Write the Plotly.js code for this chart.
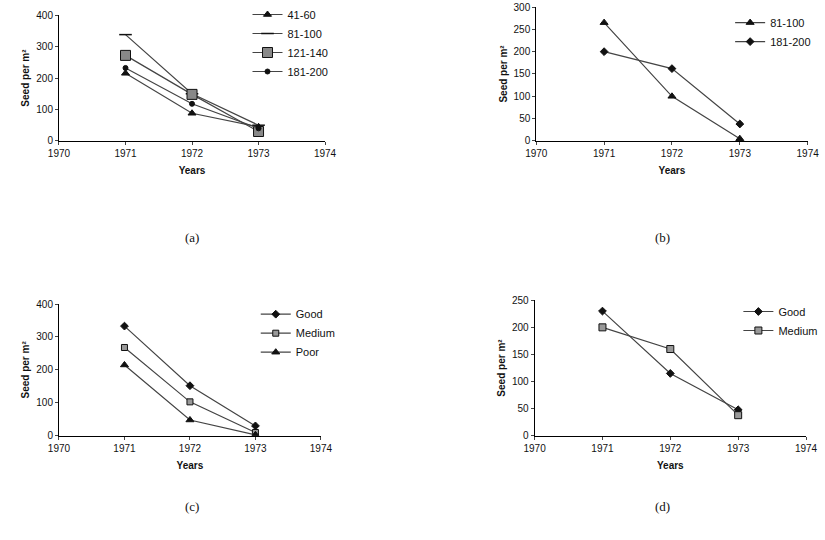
<!DOCTYPE html>
<html><head><meta charset="utf-8">
<script src="https://cdn.plot.ly/plotly-3.0.1.min.js"></script>
<style>body{margin:0;background:#fff}#graph{width:825px;height:540px}</style>
</head><body><div id="graph"></div>
<script>
// DATA
var years = [1971, 1972, 1973];
var xTicks = [1970, 1971, 1972, 1973, 1974];

// (a) seed per m2 by stand density class
var a_41_60 = [215, 88, 45];
var a_81_100 = [338, 150, 50];
var a_121_140 = [272, 148, 30];
var a_181_200 = [232, 118, 40];

// (b)
var b_81_100 = [265, 100, 5];
var b_181_200 = [200, 162, 38];

// (c) by site quality
var c_good = [333, 152, 30];
var c_medium = [268, 103, 10];
var c_poor = [215, 48, 3];

// (d)
var d_good = [230, 115, 48];
var d_medium = [200, 160, 38];

var lineCol = '#444';
var fnt = {family: 'Liberation Sans, Arial', size: 10, color: '#111'};
var legFnt = {family: 'Liberation Sans, Arial', size: 11, color: '#111'};

function tr(name, y, xa, ya, sym, size, leg, fill){
	return {
		x: years, y: y, name: name, xaxis: xa, yaxis: ya, legend: leg,
		type: 'scatter', mode: 'lines+markers',
		line: {color: lineCol, width: 1.2},
		marker: {symbol: sym, size: size, color: fill || '#111',
			line: {color: '#111', width: sym == 'line-ew' ? 1.5 : 1}}
	};
}

var traces = [
	tr('41-60', a_41_60, 'x', 'y', 'triangle-up', 7, 'legend'),
	tr('81-100', a_81_100, 'x', 'y', 'line-ew', 9, 'legend'),
	tr('121-140', a_121_140, 'x', 'y', 'square', 10, 'legend', '#888'),
	tr('181-200', a_181_200, 'x', 'y', 'circle', 5, 'legend'),
	tr('81-100', b_81_100, 'x2', 'y2', 'triangle-up', 7, 'legend2'),
	tr('181-200', b_181_200, 'x2', 'y2', 'diamond', 6, 'legend2'),
	tr('Good', c_good, 'x3', 'y3', 'diamond', 6, 'legend3'),
	tr('Medium', c_medium, 'x3', 'y3', 'square', 6, 'legend3', '#999'),
	tr('Poor', c_poor, 'x3', 'y3', 'triangle-up', 7, 'legend3'),
	tr('Good', d_good, 'x4', 'y4', 'diamond', 6, 'legend4'),
	tr('Medium', d_medium, 'x4', 'y4', 'square', 7, 'legend4', '#999')
];

function xax(dom, anchor){
	return {domain: dom, anchor: anchor, range: [1970, 1974], tickvals: xTicks,
		showline: true, linecolor: '#000', linewidth: 1.5, ticks: 'outside', ticklen: 3,
		showgrid: false, zeroline: false, tickfont: fnt,
		title: {text: '<b>Years</b>', font: fnt, standoff: 8}};
}
function yax(dom, anchor, max, dt){
	return {domain: dom, anchor: anchor, range: [0, max], dtick: dt,
		showline: true, linecolor: '#000', linewidth: 1, ticks: 'outside', ticklen: 3,
		showgrid: false, zeroline: false, tickfont: fnt,
		title: {text: '<b>Seed per m²</b>', font: fnt, standoff: 4}};
}
function leg(x, y){
	return {x: x, y: y, xanchor: 'left', yanchor: 'top', bgcolor: 'rgba(0,0,0,0)',
		font: legFnt, tracegroupgap: 0, itemwidth: 30};
}

var layout = {
	width: 825, height: 540, margin: {l: 0, r: 0, t: 0, b: 0},
	paper_bgcolor: '#fff', plot_bgcolor: '#fff', font: fnt,
	xaxis: xax([0.0715, 0.394], 'y'),
	yaxis: yax([0.739, 0.972], 'x', 400, 100),
	xaxis2: xax([0.65, 0.979], 'y2'),
	yaxis2: yax([0.739, 0.987], 'x2', 300, 50),
	xaxis3: xax([0.0715, 0.389], 'y3'),
	yaxis3: yax([0.193, 0.437], 'x3', 400, 100),
	xaxis4: xax([0.648, 0.977], 'y4'),
	yaxis4: yax([0.193, 0.444], 'x4', 250, 50),
	legend: leg(0.30, 1.0),
	legend2: leg(0.885, 0.985),
	legend3: leg(0.31, 0.445),
	legend4: leg(0.895, 0.45),
	annotations: [
		{text: '(a)', x: 0.222, y: 1 - 237/540},
		{text: '(b)', x: 0.815, y: 1 - 237/540},
		{text: '(c)', x: 0.222, y: 1 - 516/540},
		{text: '(d)', x: 0.815, y: 1 - 516/540}
	].map(function(a){
		a.xref = 'paper'; a.yref = 'paper'; a.showarrow = false;
		a.font = {family: 'Liberation Serif, Times New Roman', size: 13, color: '#111'};
		return a;
	})
};

Plotly.newPlot('graph', traces, layout, {displayModeBar: false, staticPlot: true});
</script>
</body></html>
